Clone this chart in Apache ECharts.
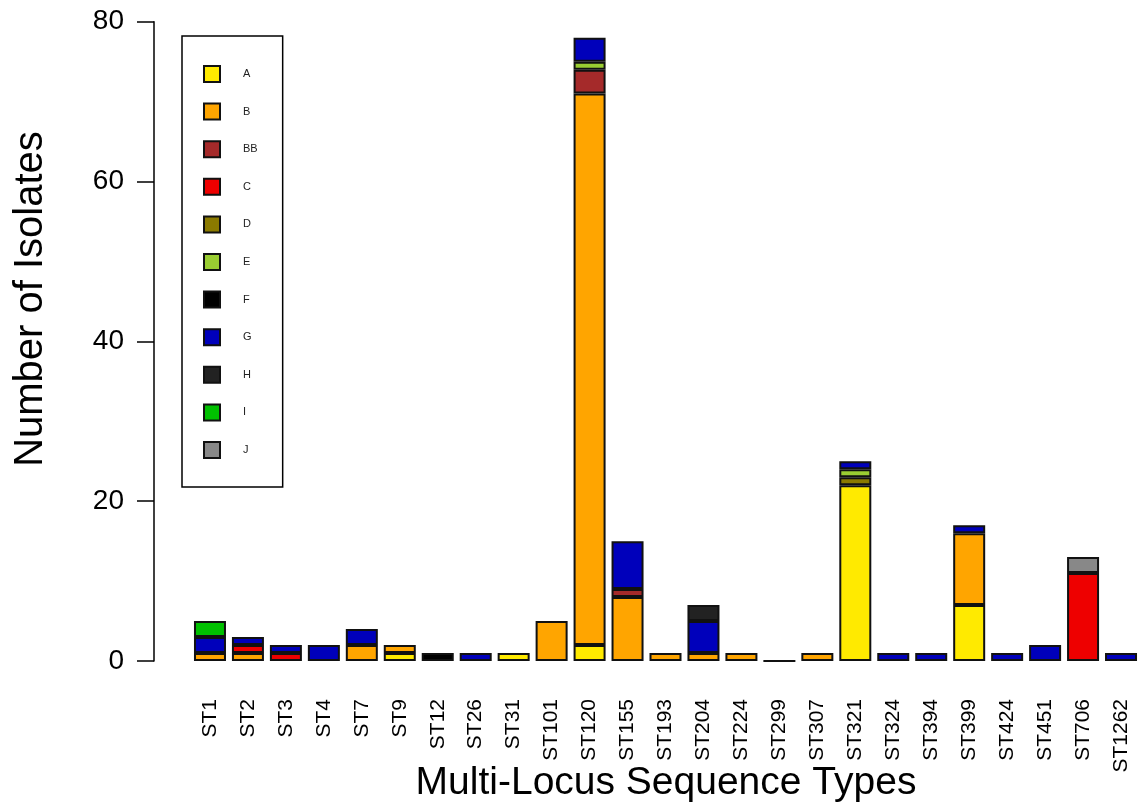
<!DOCTYPE html>
<html>
<head>
<meta charset="utf-8">
<script src="https://cdn.jsdelivr.net/npm/echarts@6/dist/echarts.min.js"></script>
<style>
html,body{margin:0;padding:0;background:#fff;}
#chart{width:1140px;height:805px;}
</style>
</head>
<body>
<div id="chart"></div>
<script>
var categories = ['ST1','ST2','ST3','ST4','ST7','ST9','ST12','ST26','ST31','ST101','ST120','ST155','ST193','ST204','ST224','ST299','ST307','ST321','ST324','ST394','ST399','ST424','ST451','ST706','ST1262'];
//            ST1  ST2  ST3  ST4  ST7  ST9  ST12 ST26 ST31 ST101 ST120 ST155 ST193 ST204 ST224 ST299 ST307 ST321 ST324 ST394 ST399 ST424 ST451 ST706 ST1262
var A  = [null,null,null,null,null, 1,  null,null, 1,  null,  2,   null, null, null, null,  0,   null, 22,  null, null,  7,   null, null, null, null];
var B  = [ 1,   1,  null,null, 2,   1,  null,null,null, 5,    69,   8,    1,    1,    1,   null,  1,   null, null, null,  9,   null, null, null, null];
var BB = [null,null,null,null,null,null,null,null,null,null,  3,    1,   null, null, null, null, null, null, null, null, null, null, null, null, null];
var C  = [null, 1,   1,  null,null,null,null,null,null,null, null, null, null, null, null, null, null, null, null, null, null, null, null, 11,  null];
var D  = [null,null,null,null,null,null,null,null,null,null, null, null, null, null, null, null, null,  1,   null, null, null, null, null, null, null];
var E  = [null,null,null,null,null,null,null,null,null,null,  1,   null, null, null, null, null, null,  1,   null, null, null, null, null, null, null];
var F  = [null,null,null,null,null,null, 1,  null,null,null, null, null, null, null, null, null, null, null, null, null, null, null, null, null, null];
var G  = [ 2,   1,   1,   2,   2,  null,null, 1,  null,null,  3,    6,   null,  4,   null, null, null,  1,    1,    1,    1,    1,    2,   null,  1];
var H  = [null,null,null,null,null,null,null,null,null,null, null, null, null,  2,   null, null, null, null, null, null, null, null, null, null, null];
var I  = [ 2,  null,null,null,null,null,null,null,null,null, null, null, null, null, null, null, null, null, null, null, null, null, null, null, null];
var J  = [null,null,null,null,null,null,null,null,null,null, null, null, null, null, null, null, null, null, null, null, null, null, null,  2,   null];

var groupNames = ['A','B','BB','C','D','E','F','G','H','I','J'];
var groupValues = [A,B,BB,C,D,E,F,G,H,I,J];
var groupColors = ['#FFEA00','#FFA500','#A52A2A','#EE0000','#8B7A00','#9ACD32','#000000','#0000BB','#222222','#00C000','#888888'];
var yTicks = [0,20,40,60,80];

var chart = echarts.init(document.getElementById('chart'), null, {renderer:'canvas'});
var FONT = 'Liberation Sans, Arial, sans-serif';

var series = groupNames.map(function(name, i){
  return {
    name: name,
    type: 'bar',
    stack: 'total',
    data: groupValues[i],
    barWidth: 32,
    itemStyle: {color: groupColors[i], borderColor: '#111', borderWidth: 2},
    emphasis: {disabled: true}
  };
});

chart.setOption({
  animation: false,
  backgroundColor: '#ffffff',
  grid: {left: 191, top: 21.7, width: 955, height: 639.3, containLabel: false},
  legend: {
    orient: 'vertical',
    left: 182, top: 36,
    data: groupNames.map(function(n){ return {name: n, icon: 'rect'}; }),
    itemWidth: 16, itemHeight: 16,
    itemGap: 19.6,
    padding: [29, 25, 28, 21],
    borderColor: '#000', borderWidth: 1.5, borderRadius: 0,
    backgroundColor: '#fff',
    selectedMode: false,
    textStyle: {fontFamily: FONT, fontSize: 11, color: '#222', padding: [0,0,0,18]}
  },
  xAxis: {
    type: 'category',
    data: categories,
    axisLine: {show: false},
    axisTick: {show: false},
    axisLabel: {rotate: 90, margin: 38, fontFamily: FONT, fontSize: 21, color: '#000', interval: 0}
  },
  yAxis: {
    type: 'value',
    min: 0, max: 80, interval: 20,
    offset: 37,
    splitLine: {show: false},
    axisLine: {show: true, lineStyle: {color: '#000', width: 1.5}},
    axisTick: {show: true, length: 17, lineStyle: {color: '#000', width: 1.5}},
    axisLabel: {margin: 30, fontFamily: FONT, fontSize: 28, color: '#000',
      formatter: function(v){ return yTicks.indexOf(v) >= 0 ? String(v) : ''; }}
  },
  graphic: [
    {type: 'text', x: 666, y: 783, style: {text: 'Multi-Locus Sequence Types', font: '39px ' + FONT, fill: '#000', align: 'center', verticalAlign: 'middle'}},
    {type: 'text', x: 31, y: 299, rotation: Math.PI/2, style: {text: 'Number of Isolates', font: '40px ' + FONT, fill: '#000', align: 'center', verticalAlign: 'middle'}}
  ],
  series: series
});
</script>
</body>
</html>
